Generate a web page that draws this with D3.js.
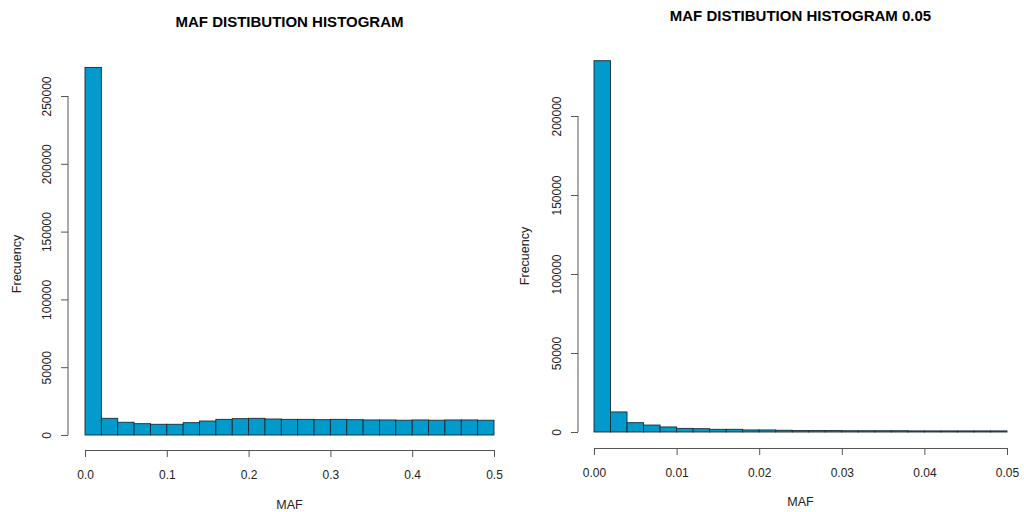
<!DOCTYPE html>
<html>
<head>
<meta charset="utf-8">
<script src="https://cdn.jsdelivr.net/npm/d3@7"></script>
<style>
  body { margin: 0; background: #fff; }
  text { font-family: "Liberation Sans", Arial, sans-serif; fill: #222; }
</style>
</head>
<body>
<svg width="1024" height="512"></svg>
<script>
// left panel: MAF 0 - 0.5, bin width 0.02
var leftTitle = "MAF DISTIBUTION HISTOGRAM";
var leftBinWidth = 0.02;
var leftCounts = [271000, 12300, 9400, 8350, 7900, 7900, 9100, 10300, 11550, 12050,
                  12300, 11800, 11550, 11550, 11300, 11550, 11300, 11100, 11100, 10900,
                  11100, 10900, 11100, 11100, 10900];
var leftXTicks = [0, 0.1, 0.2, 0.3, 0.4, 0.5];
var leftYTicks = [0, 50000, 100000, 150000, 200000, 250000];

// right panel: MAF 0 - 0.05, bin width 0.002
var rightTitle = "MAF DISTIBUTION HISTOGRAM 0.05";
var rightBinWidth = 0.002;
var rightCounts = [235000, 12700, 5900, 4400, 3200, 2300, 2100, 1700, 1700, 1300,
                   1300, 1100, 900, 900, 900, 800, 800, 800, 800, 700,
                   700, 700, 700, 700, 700];
var rightXTicks = [0, 0.01, 0.02, 0.03, 0.04, 0.05];
var rightYTicks = [0, 50000, 100000, 150000, 200000];

var svg = d3.select("svg");

function drawHist(opt) {
    var x = d3.scaleLinear().domain(opt.xDomain).range([opt.x0, opt.x1]);
    var y = d3.scaleLinear().domain([0, opt.yMax]).range([opt.base, opt.top]);
    var g = svg.append("g");

    g.selectAll("rect")
        .data(opt.counts)
        .enter()
        .append("rect")
        .attr("x", function (d, i) { return x(i * opt.binWidth); })
        .attr("y", function (d) { return y(d); })
        .attr("width", function (d, i) { return x((i + 1) * opt.binWidth) - x(i * opt.binWidth); })
        .attr("height", function (d) { return y(0) - y(d); })
        .attr("fill", "#009acd")
        .attr("stroke", "#1b2b33")
        .attr("stroke-width", 0.9);

    // x axis, R style (detached below the plot)
    var xAxis = g.append("g")
        .attr("transform", "translate(0," + opt.xAxisY + ")")
        .call(d3.axisBottom(x).tickValues(opt.xTicks).tickSize(7).tickSizeOuter(0)
            .tickFormat(d3.format(opt.xFmt)));
    xAxis.select(".domain").attr("stroke", "#555");
    xAxis.selectAll(".tick line").attr("stroke", "#555");
    xAxis.selectAll(".tick text").attr("font-size", 12).attr("dy", "1.55em")
        .attr("font-family", "Liberation Sans, Arial, sans-serif").attr("fill", "#222");

    // y axis, rotated labels
    var yAxis = g.append("g")
        .attr("transform", "translate(" + opt.yAxisX + ",0)")
        .call(d3.axisLeft(y).tickValues(opt.yTicks).tickSize(7).tickSizeOuter(0)
            .tickFormat(d3.format("d")));
    yAxis.select(".domain").attr("stroke", "#555")
        .attr("d", "M0," + y(0) + "V" + y(d3.max(opt.yTicks)));
    yAxis.selectAll(".tick line").attr("stroke", "#555");
    yAxis.selectAll(".tick text")
        .attr("font-size", 12)
        .attr("font-family", "Liberation Sans, Arial, sans-serif").attr("fill", "#222")
        .attr("x", null).attr("dy", null)
        .attr("text-anchor", "middle")
        .attr("transform", "translate(-17,0) rotate(-90)");

    g.append("text")
        .attr("x", (opt.x0 + opt.x1) / 2)
        .attr("y", opt.titleY)
        .attr("text-anchor", "middle")
        .attr("font-size", 15)
        .attr("font-weight", "bold")
        .style("fill", "#000")
        .text(opt.title);

    g.append("text")
        .attr("x", (opt.x0 + opt.x1) / 2)
        .attr("y", opt.xLabelY)
        .attr("text-anchor", "middle")
        .attr("font-size", 12.5)
        .text("MAF");

    g.append("text")
        .attr("transform", "translate(" + opt.yLabelX + "," + opt.yLabelY + ") rotate(-90)")
        .attr("text-anchor", "middle")
        .attr("font-size", 12.5)
        .text("Frecuency");
}

drawHist({
    counts: leftCounts, binWidth: leftBinWidth, xDomain: [0, 0.5],
    xTicks: leftXTicks, yTicks: leftYTicks, xFmt: ".1f", yMax: 250000,
    x0: 85, x1: 494, base: 435, top: 96,
    xAxisY: 450, yAxisX: 68, titleY: 27, xLabelY: 509, yLabelX: 21, yLabelY: 264,
    title: leftTitle
});

drawHist({
    counts: rightCounts, binWidth: rightBinWidth, xDomain: [0, 0.05],
    xTicks: rightXTicks, yTicks: rightYTicks, xFmt: ".2f", yMax: 200000,
    x0: 594, x1: 1007, base: 432, top: 116,
    xAxisY: 448, yAxisX: 578, titleY: 21, xLabelY: 506, yLabelX: 529, yLabelY: 256,
    title: rightTitle
});
</script>
</body>
</html>
